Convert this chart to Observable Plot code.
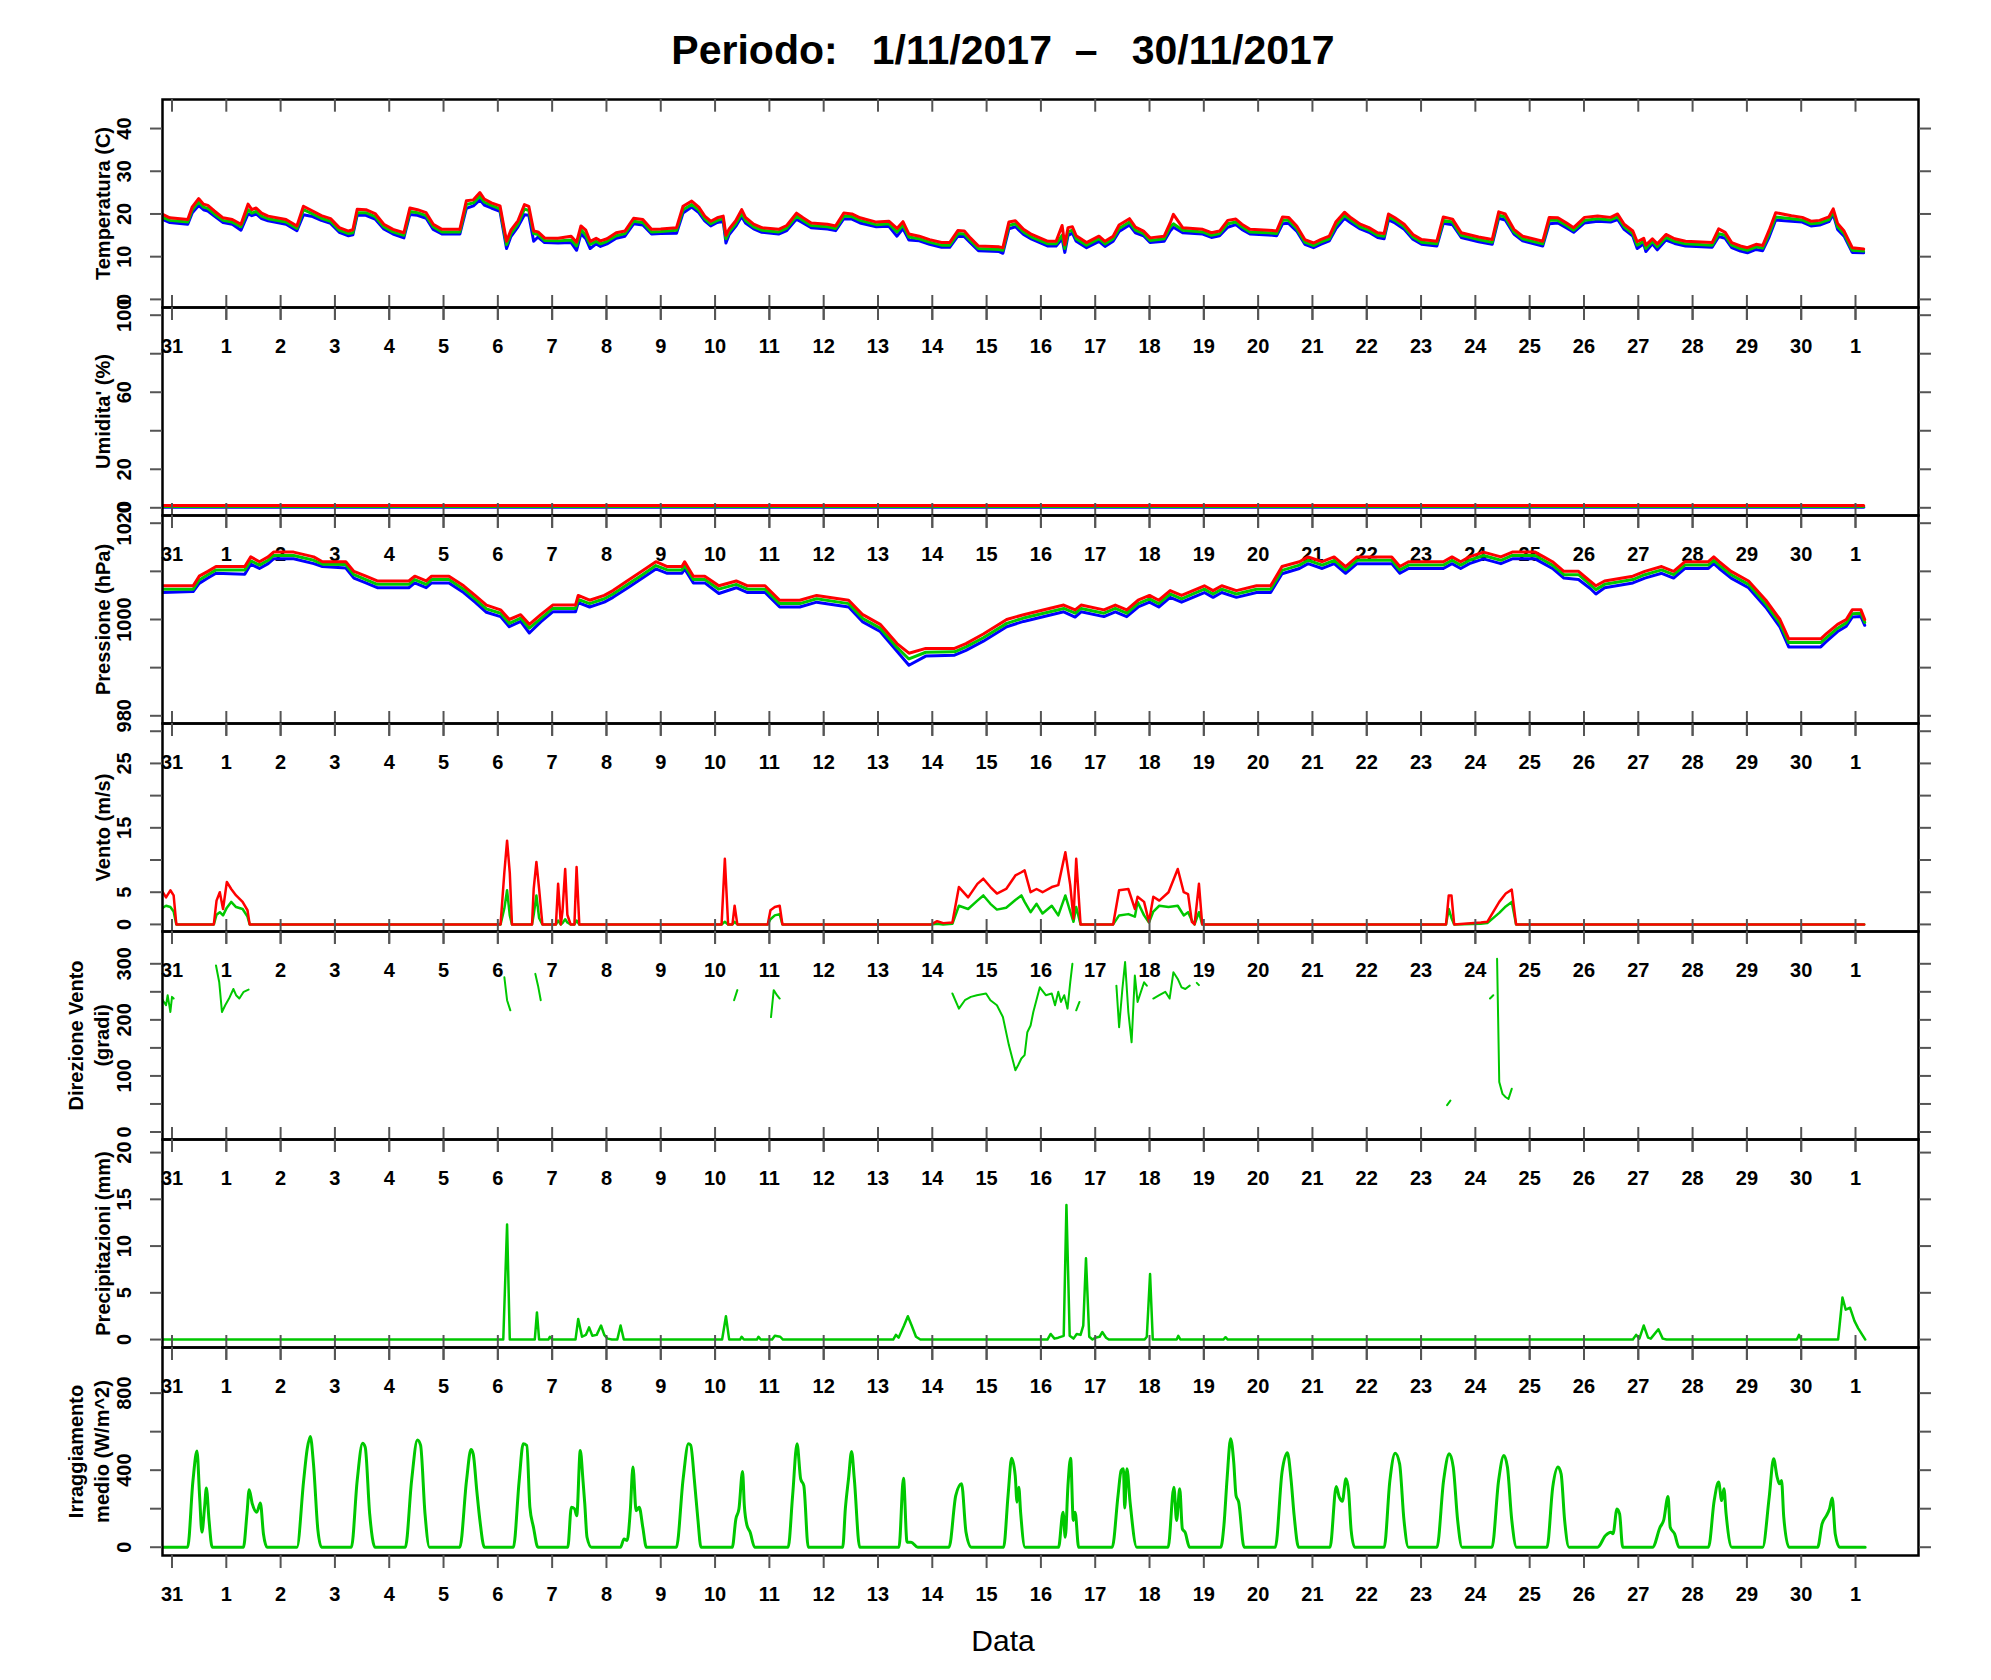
<!DOCTYPE html>
<html>
<head>
<meta charset="utf-8">
<script src="https://cdn.jsdelivr.net/npm/d3@7"></script>
<script src="https://cdn.jsdelivr.net/npm/@observablehq/plot@0.6"></script>
<style>
  body { margin: 0; background: #fff; }
  #page { position: relative; width: 1991px; height: 1680px; font-family: "Liberation Sans", Arial, Helvetica, sans-serif; }
  #title { position: absolute; top: 30px; left: 1003px; transform: translateX(-50%); font-size: 41px; line-height: 41px; font-weight: bold; white-space: pre; }
  #xlabel { position: absolute; top: 1626px; left: 1003px; transform: translateX(-50%); font-size: 30px; line-height: 30px; white-space: pre; }
</style>
</head>
<body>
<div id="page">
  <div id="title">Periodo:   1/11/2017  –   30/11/2017</div>
  <div id="charts"></div>
  <div id="xlabel">Data</div>
</div>
<script>
// Meteo station, November 2017: 7 stacked panels sharing the same day axis
// x values are days counted from 31/10 00:00

const dayLabels = ["31","1","2","3","4","5","6","7","8","9","10","11","12","13","14","15",
  "16","17","18","19","20","21","22","23","24","25","26","27","28","29","30","1"];

// Temperatura (C): min (blue), mean (green), max (red)
const tempDay = [-0.19,-0.04,0.29,0.37,0.49,0.58,0.66,0.78,0.94,
  1.11,1.27,1.40,1.47,1.55,1.65,1.77,
  2.10,2.30,2.42,2.59,2.75,2.92,
  3.08,3.25,3.33,3.41,3.57,3.74,3.90,
  4.07,4.27,4.38,4.52,4.68,4.81,4.97,
  5.30,5.42,5.55,5.67,5.75,5.88,
  6.04,6.16,6.24,6.37,6.49,6.57,6.66,6.74,6.86,
  7.11,7.35,7.45,7.53,7.62,7.70,7.81,7.89,
  8.01,8.18,8.34,8.50,8.67,8.83,
  9.00,9.29,9.41,9.57,9.70,9.81,9.92,
  10.04,10.15,10.20,10.26,10.38,10.49,10.56,10.71,10.86,
  11.17,11.32,11.50,11.62,11.77,
  12.07,12.22,12.37,12.52,12.67,12.97,
  13.20,13.35,13.46,13.57,13.76,13.95,
  14.17,14.32,14.47,14.59,14.70,14.85,
  15.23,15.30,15.41,15.53,15.68,15.83,
  16.13,16.28,16.39,16.44,16.50,16.58,16.65,16.84,
  17.07,17.18,17.33,17.44,17.63,17.74,17.89,
  18.01,18.27,18.38,18.44,18.61,18.98,
  19.14,19.29,19.44,19.59,19.70,19.85,
  20.19,20.34,20.45,20.56,20.71,20.86,
  21.02,21.15,21.31,21.43,21.59,21.71,21.88,
  22.04,22.20,22.32,22.40,22.52,22.69,22.85,
  23.01,23.29,23.41,23.58,23.74,
  24.06,24.31,24.43,24.55,24.71,24.87,
  25.24,25.36,25.52,25.68,25.81,
  26.01,26.25,26.49,26.62,26.74,26.90,26.98,
  27.10,27.14,27.26,27.35,27.51,27.67,27.87,
  28.36,28.48,28.60,28.72,28.88,
  29.01,29.17,29.29,29.41,29.53,29.82,
  30.02,30.18,30.34,30.51,30.59,30.67,30.79,30.94,
  31.15];
const tempMean = [19.3,18.5,18.1,20.9,22.8,21.6,21.3,20.0,18.5,
  18.1,17.0,21.0,20.2,20.6,19.5,18.9,
  18.1,16.6,21.0,20.0,19.0,18.3,
  16.2,15.4,15.6,20.3,20.3,19.4,17.0,
  15.8,15.0,20.6,20.3,19.6,17.0,15.8,
  15.8,22.2,22.6,24.2,22.8,22.0,
  21.2,12.8,15.4,17.7,21.2,20.8,15.4,15.2,13.8,
  13.7,13.9,12.5,16.4,15.0,12.9,13.6,13.0,
  13.6,14.9,15.4,18.3,18.0,15.8,
  15.9,16.2,21.0,22.2,20.9,18.9,17.7,
  18.5,18.9,14.2,15.8,17.7,20.1,18.5,17.0,16.2,
  15.8,16.7,19.5,18.5,17.3,
  17.0,16.6,19.5,19.4,18.5,17.5,
  17.7,15.8,17.4,14.6,14.2,13.4,
  12.7,12.7,15.4,15.3,13.8,11.9,
  11.7,11.5,17.3,17.7,15.8,14.6,
  13.0,13.0,15.0,11.9,15.8,16.2,14.2,12.7,
  14.2,13.0,14.2,16.6,18.1,16.2,15.4,
  13.8,14.2,17.0,17.7,16.2,15.8,
  15.0,15.4,17.7,18.1,17.0,15.8,
  15.6,15.4,18.5,18.5,16.6,13.4,
  12.6,13.4,14.2,17.3,19.7,18.5,17.0,
  16.2,15.0,14.8,19.3,18.5,17.0,14.6,
  13.4,13.0,18.5,18.1,15.0,
  14.0,13.4,19.7,19.3,15.8,14.2,
  13.0,18.5,18.5,17.3,16.2,
  18.5,18.9,18.6,19.3,17.0,15.4,12.7,
  13.6,11.9,13.6,12.3,14.5,13.6,13.0,
  12.7,15.4,15.0,12.7,11.9,
  11.5,12.3,12.0,15.4,19.3,18.9,
  18.6,17.7,17.9,18.7,20.5,17.0,15.4,11.5,
  11.3];
const tempMax = [20.0,19.1,18.7,21.6,23.6,22.3,22.0,20.7,19.1,
  18.7,17.6,22.3,21.0,21.4,20.2,19.5,
  18.7,17.2,21.8,20.7,19.6,18.9,
  16.8,16.0,16.3,21.1,21.0,20.1,17.6,
  16.4,15.6,21.4,21.0,20.3,17.6,16.4,
  16.4,23.1,23.3,25.0,23.5,22.6,
  21.9,13.6,16.2,18.4,22.2,21.8,16.0,15.8,14.4,
  14.3,14.8,13.4,17.2,16.2,13.6,14.3,13.7,
  14.2,15.6,16.0,19.0,18.7,16.4,
  16.5,16.8,21.8,23.0,21.6,19.5,18.3,
  19.1,19.5,15.0,16.5,18.4,21.0,19.2,17.6,16.8,
  16.4,17.3,20.2,19.1,17.9,
  17.6,17.2,20.2,20.0,19.1,18.1,
  18.3,16.6,18.2,15.3,14.8,14.0,
  13.3,13.3,16.1,16.0,14.4,12.5,
  12.3,12.1,18.1,18.4,16.4,15.2,
  13.6,13.6,17.3,12.8,16.8,17.0,14.9,13.3,
  14.8,13.6,14.8,17.4,18.9,16.9,16.0,
  14.4,14.8,17.9,19.9,16.8,16.4,
  15.6,16.0,18.5,18.8,17.6,16.4,
  16.2,16.0,19.3,19.2,17.2,14.0,
  13.2,14.0,14.8,18.1,20.4,19.1,17.6,
  16.8,15.6,15.4,20.0,19.1,17.6,15.2,
  14.0,13.6,19.3,18.8,15.6,
  14.6,14.0,20.5,20.0,16.4,14.8,
  13.6,19.2,19.1,17.9,16.8,
  19.2,19.5,19.2,20.0,17.6,16.0,13.5,
  14.3,12.7,14.2,13.0,15.2,14.2,13.6,
  13.3,16.5,15.7,13.3,12.5,
  12.1,12.9,12.6,16.2,20.3,19.6,
  19.2,18.3,18.5,19.3,21.2,17.8,16.0,12.1,
  11.8];
const tempMin = [18.8,18.0,17.6,20.2,22.0,21.0,20.7,19.5,18.0,
  17.6,16.2,20.0,19.6,20.0,18.9,18.4,
  17.6,16.1,19.8,19.4,18.5,17.8,
  15.7,14.9,15.1,19.7,19.7,18.8,16.5,
  15.3,14.4,19.9,19.7,19.0,16.4,15.3,
  15.3,21.3,21.9,23.3,22.1,21.4,
  20.6,11.9,14.7,17.0,19.8,19.7,13.6,14.6,13.3,
  13.2,13.3,11.5,15.4,14.2,11.9,13.0,12.4,
  13.0,14.3,14.8,17.7,17.4,15.3,
  15.4,15.5,20.2,21.6,20.3,18.4,17.2,
  18.0,18.3,13.2,15.2,17.1,19.4,17.9,16.5,15.7,
  15.3,16.1,18.8,17.9,16.8,
  16.5,16.1,18.9,18.8,17.9,17.0,
  17.1,14.8,16.6,13.9,13.7,12.9,
  12.2,12.2,14.8,14.7,13.3,11.4,
  11.2,10.8,16.5,17.0,15.2,14.1,
  12.5,12.5,14.2,11.0,15.0,15.5,13.6,12.1,
  13.6,12.4,13.6,15.9,17.4,15.6,14.9,
  13.3,13.6,16.0,16.9,15.6,15.3,
  14.5,14.9,16.9,17.5,16.4,15.3,
  15.1,14.9,17.7,17.8,16.0,12.9,
  12.1,12.9,13.7,16.5,19.0,17.9,16.5,
  15.7,14.5,14.2,18.6,17.9,16.4,14.1,
  12.9,12.5,17.8,17.5,14.5,
  13.5,12.9,19.0,18.6,15.3,13.7,
  12.5,17.7,17.9,16.7,15.7,
  17.9,18.3,18.1,18.7,16.4,14.8,11.9,
  13.0,11.2,13.0,11.6,13.9,13.1,12.5,
  12.2,14.7,14.3,12.1,11.3,
  10.9,11.7,11.4,14.6,18.6,18.3,
  18.1,17.2,17.4,18.2,19.9,16.4,14.8,11.0,
  10.9];

// Umidita' (%): the sensor reads almost zero for the whole month
const humDay = [-0.19, 31.15];
const humMin = [0.3, 0.3];
const humMean = [0.7, 0.7];
const humMax = [1.2, 1.2];

// Pressione (hPa)
const pressDay = [-0.17,0.39,0.50,0.66,0.81,
  1.34,1.45,1.61,1.77,1.87,
  2.24,2.61,2.77,
  3.20,3.35,3.57,3.78,
  4.36,4.47,4.68,4.78,
  5.10,5.37,5.58,5.79,
  6.05,6.21,6.42,6.58,6.79,
  7.01,7.43,7.48,7.69,7.96,
  8.12,8.38,8.65,8.91,
  9.12,9.39,9.44,9.60,9.81,
  10.07,10.39,10.60,10.92,
  11.19,11.56,11.87,
  12.46,12.72,
  13.04,13.35,13.57,13.88,
  14.41,14.62,14.94,
  15.37,15.68,
  16.42,16.63,16.74,
  17.16,17.37,17.58,17.79,
  18.00,18.17,18.38,18.59,18.80,
  19.01,19.17,19.33,19.60,19.97,
  20.23,20.44,20.76,20.92,
  21.18,21.40,21.61,21.82,
  22.46,22.61,22.77,
  23.41,23.57,23.73,23.89,
  24.15,24.47,24.68,
  25.10,25.26,25.42,25.63,25.90,
  26.11,26.22,26.38,26.90,
  27.12,27.43,27.65,27.86,
  28.29,28.39,28.49,28.71,
  29.03,29.35,29.61,29.77,
  30.36,30.46,30.67,30.83,30.94,
  31.10,31.17];
const pressMax = [1007,1007,1009,1010,1011,
  1011,1013,1012,1013,1014,
  1014,1013,1012,
  1012,1010,1009,1008,
  1008,1009,1008,1009,
  1009,1007,1005,1003,
  1002,1000,1001,999,1001,
  1003,1003,1005,1004,1005,
  1006,1008,1010,1012,
  1011,1011,1012,1009,1009,
  1007,1008,1007,1007,
  1004,1004,1005,
  1004,1001,
  999,995,993,994,
  994,995,997,
  1000,1001,
  1003,1002,1003,
  1002,1003,1002,1004,
  1005,1004,1006,1005,1006,
  1007,1006,1007,1006,1007,
  1007,1011,1012,1013,
  1012,1013,1011,1013,
  1013,1011,1012,
  1012,1013,1012,1013,
  1014,1013,1014,
  1014,1013,1012,1010,1010,
  1008,1007,1008,1009,
  1010,1011,1010,1012,
  1012,1013,1012,1010,
  1008,1004,1000,996,
  996,997,999,1000,1002,
  1002,1000];
const pressMean = [1006.3,1006.3,1008.2,1009.3,1010.3,
  1010.3,1012.2,1011.3,1012.3,1013.3,
  1013.3,1012.3,1011.5,
  1011.4,1009.3,1008.3,1007.3,
  1007.3,1008.3,1007.3,1008.3,
  1008.3,1006.3,1004.3,1002.2,
  1001.3,999.2,1000.3,998.2,1000.2,
  1002.3,1002.3,1004.2,1003.3,1004.3,
  1005.3,1007.2,1009.2,1011.2,
  1010.3,1010.3,1011.2,1008.3,1008.3,
  1006.3,1007.3,1006.3,1006.3,
  1003.3,1003.3,1004.3,
  1003.3,1000.2,
  998.2,994.2,991.8,993.2,
  993.3,994.3,996.2,
  999.2,1000.3,
  1002.3,1001.3,1002.3,
  1001.3,1002.3,1001.3,1003.3,
  1004.3,1003.3,1005.3,1004.3,1005.3,
  1006.3,1005.3,1006.3,1005.3,1006.3,
  1006.3,1010.2,1011.3,1012.3,
  1011.3,1012.3,1010.3,1012.3,
  1012.3,1010.3,1011.3,
  1011.3,1012.3,1011.3,1012.3,
  1013.3,1012.3,1013.3,
  1013.3,1012.3,1011.3,1009.3,1009.3,
  1007.3,1006.2,1007.3,1008.3,
  1009.3,1010.3,1009.3,1011.3,
  1011.3,1012.3,1011.3,1009.3,
  1007.3,1003.2,999.2,995.2,
  995.2,996.2,998.2,999.3,1001.2,
  1001.3,999.4];
const pressMin = [1005.6,1005.8,1007.5,1008.6,1009.6,
  1009.4,1011.5,1010.6,1011.6,1012.6,
  1012.6,1011.6,1011.0,
  1010.7,1008.6,1007.6,1006.6,
  1006.6,1007.6,1006.6,1007.6,
  1007.6,1005.6,1003.6,1001.5,
  1000.6,998.5,999.6,997.2,999.5,
  1001.6,1001.6,1003.5,1002.6,1003.6,
  1004.6,1006.5,1008.5,1010.5,
  1009.6,1009.6,1010.5,1007.6,1007.6,
  1005.4,1006.6,1005.6,1005.6,
  1002.6,1002.6,1003.6,
  1002.6,999.5,
  997.5,993.4,990.5,992.4,
  992.6,993.6,995.5,
  998.5,999.6,
  1001.6,1000.5,1001.6,
  1000.6,1001.6,1000.6,1002.6,
  1003.6,1002.6,1004.6,1003.6,1004.6,
  1005.6,1004.6,1005.6,1004.6,1005.6,
  1005.6,1009.5,1010.6,1011.6,
  1010.6,1011.6,1009.6,1011.6,
  1011.6,1009.6,1010.6,
  1010.6,1011.6,1010.6,1011.6,
  1012.6,1011.6,1012.6,
  1012.6,1011.6,1010.6,1008.6,1008.3,
  1006.5,1005.3,1006.6,1007.6,
  1008.6,1009.6,1008.6,1010.6,
  1010.6,1011.6,1010.6,1008.6,
  1006.6,1002.5,998.4,994.3,
  994.3,995.4,997.5,998.6,1000.5,
  1000.6,998.8];

// Vento (m/s): max (red) and mean (green)
const windDay = [-0.19,-0.11,-0.03,0.03,0.08,
  0.77,0.82,0.88,0.94,1.01,1.09,1.18,1.30,1.39,1.43,
  6.05,6.12,6.17,6.22,6.26,
  6.63,6.66,6.71,6.76,6.82,
  7.07,7.11,7.16,7.19,7.24,7.28,7.34,7.41,7.45,7.50,
  10.12,10.18,10.24,10.32,10.36,10.41,
  10.97,11.02,11.10,11.19,11.24,
  13.98,14.09,14.20,14.37,14.49,14.66,14.83,14.94,
  15.07,15.19,15.36,15.53,15.64,15.70,15.81,15.92,
  16.03,16.20,16.32,16.45,16.54,16.60,16.65,16.73,
  17.33,17.44,17.61,17.73,17.78,17.90,17.99,
  18.07,18.18,18.35,18.52,18.63,18.71,18.78,18.83,18.91,18.97,
  23.46,23.51,23.56,23.61,
  24.10,24.22,24.44,24.56,24.67,24.75,
  31.16];
const windMax = [5.3,4.2,5.3,4.5,0,
  0,3.7,5.0,2.4,6.6,5.5,4.5,3.5,2.2,0,
  0,8.1,13.0,8.0,0,
  0,5.5,9.7,5.5,0,
  0,6.3,0,2.0,8.6,1.5,0,0,8.9,0,
  0,10.2,0,0,2.9,0,
  0,2.2,2.7,2.9,0,
  0,0.5,0.2,0.3,5.8,4.2,6.3,7.1,
  5.8,4.8,5.5,7.6,8.1,8.4,5.0,5.5,
  5.0,5.8,6.1,11.2,6.1,0.9,10.2,0,
  0,5.3,5.5,2.4,4.3,3.5,0.4,
  4.3,3.7,5.0,8.6,5.0,4.7,0.4,0,6.3,0,
  0,4.5,4.5,0,
  0.3,0.4,3.5,4.8,5.4,0,
  0];
const windMean = [2.5,2.9,2.7,2.0,0,
  0,1.5,1.9,1.4,2.6,3.5,2.7,2.4,1.2,0,
  0,2.5,5.3,1.4,0,
  0,1.5,4.5,1.0,0,
  0,0.6,0,0.2,0.8,0.3,0,0,0.6,0,
  0,0.4,0,0,0.4,0,
  0,0.8,1.4,1.6,0,
  0,0.1,0,0.1,2.9,2.4,3.7,4.5,
  3.2,2.3,2.6,3.8,4.5,3.5,1.9,3.2,
  1.7,2.9,1.4,4.5,2.0,0.4,2.7,0,
  0,1.4,1.6,1.2,3.5,1.4,0.3,
  2.0,2.9,2.7,2.9,1.4,1.9,0.6,0,1.9,0,
  0,2.4,1.0,0,
  0.1,0.2,1.8,2.8,3.5,0,
  0];

// Direzione Vento (gradi): NaN = calm, no direction
const dirDay = [-0.19,-0.11,-0.08,-0.03,0,0.03, 0.5,
  0.81,0.87,0.92,0.98,1.05,1.13,1.18,1.24,1.32,1.41, 3,
  6.12,6.17,6.23, 6.5,
  6.69,6.74,6.79, 8,
  10.35,10.41, 10.7,
  11.03,11.08,11.14,11.19, 13,
  14.37,14.49,14.60,14.71,14.82,14.99,15.07,15.19,15.30,15.41,15.53,15.58,15.64,15.70,
  15.75,15.81,15.86,15.98,16.09,16.20,16.26,16.32,16.37,16.43,16.49,16.54,16.58, 16.62,
  16.65,16.71, 17,
  17.39,17.44,17.50,17.55,17.61,17.67,17.73,17.78,17.90,17.95, 18.0,
  18.07,18.18,18.29,18.37,18.44,18.52,18.59,18.66,18.74, 18.8,
  18.87,18.91, 20,
  23.48,23.54, 24,
  24.27,24.33, 24.37,
  24.40,24.44,24.50,24.56,24.61,24.67];
const dirVal = [238,226,244,214,241,238, NaN,
  297,267,214,226,238,255,244,238,250,254, NaN,
  276,235,217, NaN,
  282,261,235, NaN,
  235,253, NaN,
  205,253,244,238, NaN,
  247,220,235,241,244,247,235,226,205,155,110,119,131,137,
  178,190,214,258,244,247,226,250,232,244,220,267,300, NaN,
  217,232, NaN,
  261,187,255,303,214,160,279,232,267,261, NaN,
  238,244,250,238,285,273,258,255,261, NaN,
  266,262, NaN,
  48,56, NaN,
  238,244, NaN,
  309,89,68,62,59,77];

// Precipitazioni (mm)
const precDay = [-0.2,
  6.10,6.17,6.22,
  6.68,6.72,6.76,
  6.93,6.96,7.00,
  7.43,7.48,7.55,7.62,7.68,7.74,7.82,7.90,7.96,8.02,8.10,8.20,8.26,8.32,
  10.13,10.20,10.26,
  10.46,10.49,10.53,
  10.77,10.80,10.84,
  11.05,11.10,11.20,11.25,
  13.28,13.33,13.38,13.48,13.55,13.62,13.70,13.78,
  16.12,16.18,16.25,16.32,16.42,16.47,16.53,16.60,16.66,16.73,16.78,16.83,16.89,16.95,17.00,17.08,17.13,17.20,17.25,
  17.91,17.95,18.01,18.06,
  18.50,18.53,18.57,
  19.36,19.40,19.44,
  26.90,26.96,27.02,27.10,27.18,27.23,27.37,27.45,27.52,
  29.92,29.96,30.00,
  30.68,30.76,30.82,30.90,30.98,31.05,31.18];
const precVal = [0,
  0,12.3,0,
  0,2.9,0,
  0,0.3,0,
  0,2.2,0.3,0.5,1.3,0.4,0.5,1.5,0.5,0.1,0,0,1.5,0,
  0,2.5,0,
  0,0.3,0,
  0,0.3,0,
  0,0.4,0.3,0,
  0,0.5,0.2,1.5,2.5,1.5,0.3,0,
  0,0.6,0.1,0.2,0.4,14.4,0.4,0.1,0.6,0.5,1.5,8.7,0.3,0,0.2,0.3,0.8,0.2,0,
  0,0.3,7.0,0,
  0,0.4,0,
  0,0.25,0,
  0,0.5,0.1,1.5,0.2,0.1,1.1,0.1,0,
  0,0.5,0,
  0,4.5,3.2,3.4,2.0,1.2,0];

// Irraggiamento medio (W/m^2)
const irrDay = [-0.19,
  0.288,0.386,0.460,0.509,0.551,0.600,0.633,0.682,0.740,
  1.315,1.380,1.421,1.479,1.561,1.627,1.684,1.750,
  2.301,2.424,2.490,2.547,2.605,2.687,2.753,
  3.303,3.410,3.509,3.558,3.640,3.739,
  4.297,4.412,4.519,4.577,4.659,4.741,
  5.300,5.423,5.505,5.546,5.612,5.670,5.752,
  6.286,6.393,6.467,6.533,6.590,6.656,6.738,
  7.288,7.354,7.412,7.453,7.518,7.568,7.601,7.642,7.724,
  8.258,8.324,8.381,8.439,8.488,8.546,8.603,8.669,8.735,
  9.288,9.412,9.510,9.551,9.617,9.683,9.741,
  10.317,10.383,10.440,10.506,10.539,10.588,10.646,10.728,
  11.346,11.428,11.510,11.576,11.634,11.716,
  12.350,12.399,12.457,12.514,12.564,12.663,
  13.387,13.469,13.535,13.609,13.733,
  14.309,14.432,14.539,14.621,14.720,
  15.313,15.395,15.461,15.527,15.560,15.593,15.626,15.708,
  16.325,16.407,16.449,16.498,16.547,16.597,16.630,16.695,
  17.313,17.420,17.477,17.519,17.543,17.584,17.642,17.765,
  18.342,18.449,18.498,18.556,18.605,18.654,18.737,
  19.313,19.370,19.428,19.494,19.551,19.593,19.642,19.741,
  20.317,20.440,20.539,20.605,20.663,20.745,
  21.324,21.438,21.494,21.551,21.616,21.665,21.713,21.778,
  22.321,22.426,22.524,22.605,22.686,22.767,
  23.293,23.415,23.520,23.593,23.674,23.755,
  24.306,24.428,24.525,24.590,24.671,24.760,
  25.319,25.425,25.522,25.579,25.644,25.725,
  26.251,26.397,26.494,26.535,26.608,26.656,26.713,
  27.264,27.402,27.467,27.548,27.588,27.669,27.750,
  28.293,28.398,28.479,28.536,28.577,28.617,28.723,
  29.290,29.411,29.492,29.557,29.598,29.638,29.679,29.776,
  30.303,30.384,30.465,30.522,30.571,30.627,30.708,
  31.178];
const irrVal = [0,
  0,346,499,260,78,208,308,139,0,
  0,173,298,225,182,229,69,0,
  0,346,511,575,433,87,0,
  0,346,540,519,173,0,
  0,346,557,530,173,0,
  0,346,507,485,294,139,0,
  0,346,537,528,208,104,0,
  0,208,200,164,502,346,225,52,0,
  0,43,35,190,416,190,208,104,0,
  0,355,537,530,355,147,0,
  0,147,200,393,216,113,78,0,
  0,268,537,355,320,0,
  0,200,355,497,355,0,
  0,358,26,26,0,
  0,268,329,78,0,
  0,268,462,372,234,312,182,0,
  0,182,52,320,462,139,182,0,
  0,268,398,407,203,407,234,0,
  0,312,139,303,95,78,0,
  0,113,355,563,441,268,234,0,
  0,390,490,355,165,0,
  0,315,260,239,355,294,87,0,
  0,346,488,433,139,0,
  0,346,485,416,139,0,
  0,346,476,416,139,0,
  0,312,416,381,139,0,
  0,61,78,70,199,173,0,
  0,104,139,263,104,69,0,
  0,242,338,242,303,173,0,
  0,260,459,364,329,346,156,0,
  0,121,164,200,256,69,0,
  0];

const RED = "#ff0000", GREEN = "#00c800", BLUE = "#0000ff";
const W = 1991, ML = 162, MR = 73, FRAME_H = 208, TOP0 = 99, MT = 20, MB = 60;
const xDomain = [-0.175, 32.16];
const dayTicks = d3.range(dayLabels.length);

function series(days, values, color, width, curve = "linear") {
    return Plot.line(days, {x: d => d, y: values, stroke: color, strokeWidth: width, curve, clip: true});
}

const panels = [
    {
        title: "Temperatura (C)", yDomain: [-1.9, 46.8],
        yTicks: [0, 10, 20, 30, 40], yLabels: [0, 10, 20, 30, 40],
        lines: [series(tempDay, tempMin, BLUE, 3), series(tempDay, tempMean, GREEN, 3), series(tempDay, tempMax, RED, 3)]
    },
    {
        title: "Umidita' (%)", yDomain: [-4, 104],
        yTicks: [0, 20, 40, 60, 80, 100], yLabels: [0, 20, 60, 100],
        lines: [series(humDay, humMin, BLUE, 3), series(humDay, humMean, GREEN, 3), series(humDay, humMax, RED, 3)]
    },
    {
        title: "Pressione (hPa)", yDomain: [978.4, 1021.6],
        yTicks: [980, 990, 1000, 1010, 1020], yLabels: [980, 1000, 1020],
        lines: [series(pressDay, pressMin, BLUE, 3), series(pressDay, pressMean, GREEN, 3), series(pressDay, pressMax, RED, 3)]
    },
    {
        title: "Vento (m/s)", yDomain: [-1.1, 31.2],
        yTicks: [0, 5, 10, 15, 20, 25, 30], yLabels: [0, 5, 15, 25],
        lines: [series(windDay, windMean, GREEN, 2.5), series(windDay, windMax, RED, 2.5)]
    },
    {
        title: "Direzione Vento\n(gradi)", yDomain: [-13.4, 357.6],
        yTicks: [0, 50, 100, 150, 200, 250, 300], yLabels: [0, 100, 200, 300],
        lines: [series(dirDay, dirVal, GREEN, 2)]
    },
    {
        title: "Precipitazioni (mm)", yDomain: [-0.85, 21.4],
        yTicks: [0, 5, 10, 15, 20], yLabels: [0, 5, 10, 15, 20],
        lines: [series(precDay, precVal, GREEN, 2.5)]
    },
    {
        title: "Irraggiamento\nmedio (W/m^2)", yDomain: [-43, 1037],
        yTicks: [0, 200, 400, 600, 800], yLabels: [0, 400, 800],
        lines: [series(irrDay, irrVal, GREEN, 3, "monotone-x")]
    }
];

const container = document.getElementById("charts");

panels.forEach((p, k) => {
    const last = k === panels.length - 1;
    const twoLines = p.title.includes("\n");
    const plot = Plot.plot({
        width: W,
        height: MT + FRAME_H + MB,
        marginLeft: ML, marginRight: MR, marginTop: MT, marginBottom: MB,
        style: {
            background: "transparent", overflow: "visible",
            fontFamily: '"Liberation Sans", Arial, Helvetica, sans-serif',
            fontSize: "20px", fontWeight: "bold", color: "black"
        },
        x: {domain: xDomain, axis: null},
        y: {domain: p.yDomain, axis: null},
        marks: [
            ...p.lines,
            Plot.frame({stroke: "black", strokeWidth: 2.5}),
            // day ticks: inward at the top, crossing at inner boundaries, outward at the bottom
            Plot.tickX(dayTicks, {x: d => d, stroke: "#555", strokeWidth: 2, insetBottom: FRAME_H - 12.7}),
            last ? null : Plot.tickX(dayTicks, {x: d => d, stroke: "#555", strokeWidth: 2, insetTop: FRAME_H - 12}),
            Plot.axisX(dayTicks, {
                anchor: "bottom", tickSize: 13, tickPadding: 18,
                tickFormat: i => dayLabels[i], stroke: "#555", strokeWidth: 2, label: null
            }),
            Plot.axisY(p.yTicks, {anchor: "left", tickSize: 12, fill: "none", stroke: "#555", strokeWidth: 2, label: null}),
            Plot.axisY(p.yTicks, {anchor: "right", tickSize: 12, fill: "none", stroke: "#555", strokeWidth: 2, label: null}),
            Plot.text(p.yLabels, {
                y: d => d, text: d => String(d), frameAnchor: "left",
                dx: -38, rotate: -90, textAnchor: "middle", lineAnchor: "middle", fill: "black"
            }),
            Plot.text([p.title], {
                text: d => d, frameAnchor: "left", dx: twoLines ? -74.7 : -61,
                rotate: -90, textAnchor: "middle", lineAnchor: "middle", lineHeight: 1.28, fill: "black"
            })
        ]
    });
    plot.style.position = "absolute";
    plot.style.left = "0px";
    plot.style.top = (TOP0 + FRAME_H * k - MT) + "px";
    container.appendChild(plot);
});
</script>
</body>
</html>
